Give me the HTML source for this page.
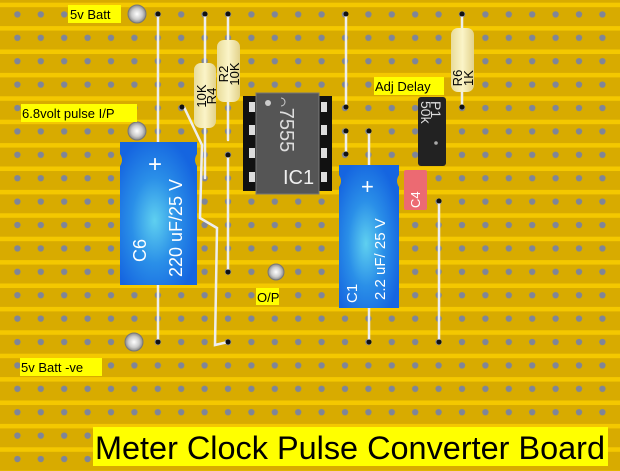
<!DOCTYPE html>
<html><head><meta charset="utf-8"><style>
html,body{margin:0;padding:0;background:#d6aa00}
svg{display:block}
text{font-family:"Liberation Sans",sans-serif}
</style></head><body>
<svg width="620" height="471" viewBox="0 0 620 471" xmlns="http://www.w3.org/2000/svg">
<defs>
<pattern id="strip" x="0" y="2.7" width="620" height="23.4" patternUnits="userSpaceOnUse">
<rect width="620" height="23.4" fill="#d8ab00"/>
<rect y="0" width="620" height="4.5" fill="#f4c800"/>
</pattern>
<pattern id="holes" x="5.4" y="2.4" width="23.4" height="23.4" patternUnits="userSpaceOnUse">
<circle cx="12" cy="12" r="3.2" fill="#7f8598"/>
</pattern>
<radialGradient id="blue" cx="0.45" cy="0.55" r="0.6">
<stop offset="0" stop-color="#5fd0f0"/><stop offset="0.5" stop-color="#2a8fe8"/><stop offset="1" stop-color="#1565e0"/>
</radialGradient>
<radialGradient id="pin" cx="0.5" cy="0.5" r="0.5">
<stop offset="0" stop-color="#fff"/><stop offset="0.6" stop-color="#ccc"/><stop offset="1" stop-color="#888"/>
</radialGradient>
<linearGradient id="res" x1="0" x2="1"><stop offset="0" stop-color="#e8dc9a"/><stop offset="0.5" stop-color="#fbf4c8"/><stop offset="1" stop-color="#e2d28a"/></linearGradient>
</defs>
<rect width="620" height="471" fill="url(#strip)"/>
<rect width="620" height="471" fill="url(#holes)"/>

<g stroke="#eee" stroke-width="2.5" fill="none" stroke-linecap="round">
<line x1="158" y1="14" x2="158" y2="342"/>
<line x1="205" y1="14" x2="205" y2="70"/>
<line x1="228" y1="14" x2="228" y2="50"/>
<line x1="205" y1="120" x2="205" y2="178"/>
<line x1="228" y1="95" x2="228" y2="140"/>
<line x1="228" y1="155" x2="228" y2="272"/>
<polyline points="184,107 202,145 200,218 217,228 215,345 228,342"/>
<line x1="346" y1="14" x2="346" y2="107"/>
<line x1="346" y1="131" x2="346" y2="154"/>
<line x1="369" y1="131" x2="369" y2="170"/>
<line x1="369" y1="300" x2="369" y2="342"/>
<line x1="439" y1="201" x2="439" y2="342"/>
<line x1="462" y1="14" x2="462" y2="107"/>
</g>
<g fill="#111">
<circle cx="158" cy="14" r="2.5"/><circle cx="205" cy="14" r="2.5"/><circle cx="228" cy="14" r="2.5"/>
<circle cx="346" cy="14" r="2.5"/><circle cx="462" cy="14" r="2.5"/><circle cx="346" cy="107" r="2.5"/>
<circle cx="182" cy="107" r="2.5"/><circle cx="462" cy="107" r="2.5"/>
<circle cx="346" cy="131" r="2.5"/><circle cx="369" cy="131" r="2.5"/><circle cx="346" cy="154" r="2.5"/>
<circle cx="228" cy="155" r="2.5"/><circle cx="228" cy="272" r="2.5"/><circle cx="439" cy="201" r="2.5"/>
<circle cx="158" cy="342" r="2.5"/><circle cx="228" cy="342" r="2.5"/><circle cx="369" cy="342" r="2.5"/><circle cx="439" cy="342" r="2.5"/>
</g>

<!-- resistors -->
<rect x="194" y="63" width="22" height="65" rx="7" fill="url(#res)"/>
<text transform="translate(206,96) rotate(-90)" font-size="13" text-anchor="middle">10K</text>
<text transform="translate(216,96) rotate(-90)" font-size="13" text-anchor="middle">R4</text>
<rect x="217" y="40" width="23" height="62" rx="7" fill="url(#res)"/>
<text transform="translate(228,74) rotate(-90)" font-size="13" text-anchor="middle">R2</text>
<text transform="translate(239,74) rotate(-90)" font-size="13" text-anchor="middle">10K</text>
<rect x="451" y="28" width="23" height="64" rx="7" fill="url(#res)"/>
<text transform="translate(462,78) rotate(-90)" font-size="13" text-anchor="middle">R6</text>
<text transform="translate(473,78) rotate(-90)" font-size="13" text-anchor="middle">1K</text>

<!-- IC -->
<rect x="243" y="96" width="89" height="95" fill="#111"/>
<g fill="#ddd">
<rect x="249" y="102" width="6" height="10"/><rect x="249" y="125" width="6" height="10"/><rect x="249" y="148" width="6" height="10"/><rect x="249" y="172" width="6" height="10"/>
<rect x="321" y="102" width="6" height="10"/><rect x="321" y="125" width="6" height="10"/><rect x="321" y="148" width="6" height="10"/><rect x="321" y="172" width="6" height="10"/>
</g>
<rect x="256" y="93" width="63" height="101" fill="#555" stroke="#777"/>
<circle cx="268" cy="103" r="3" fill="#ccc"/>
<text transform="translate(280,130) rotate(90)" font-size="20" fill="#ddd" text-anchor="middle">7555</text>
<text x="283" y="184" font-size="20" fill="#eee">IC1</text>
<path d="M281 98 a4 4 0 0 1 0 8" stroke="#ccc" fill="none"/>

<!-- P1 -->
<rect x="418" y="97" width="28" height="69" rx="3" fill="#222"/>
<text transform="translate(431,101) rotate(90)" font-size="14" fill="#ddd">P1</text>
<text transform="translate(421,101) rotate(90)" font-size="14" fill="#ddd">50k</text>
<circle cx="436" cy="143" r="1.8" fill="#aaa"/>

<!-- C6 -->
<path d="M120 142 h77 v12 q-4 6 0 12 v119 h-77 v-119 q4 -6 0 -12 z" fill="url(#blue)"/>
<text transform="translate(146,262) rotate(-90)" font-size="18" fill="#fff">C6</text>
<text transform="translate(182,277) rotate(-90)" font-size="18" fill="#fff">220 uF/25 V</text>
<text x="148" y="172" font-size="24" fill="#fff">+</text>

<!-- C1 -->
<path d="M339 165 h60 v10 q-4 6 0 12 v121 h-60 v-121 q4 -6 0 -12 z" fill="url(#blue)"/>
<text transform="translate(357,303) rotate(-90)" font-size="15" fill="#fff">C1</text>
<text transform="translate(385,300) rotate(-90)" font-size="15" fill="#fff">2.2 uF/ 25 V</text>
<text x="361" y="194" font-size="22" fill="#fff">+</text>

<!-- C4 -->
<rect x="404" y="170" width="23" height="40" rx="2" fill="#ec6a72"/>
<text transform="translate(420,208) rotate(-90)" font-size="13" fill="#fff">C4</text>

<!-- terminals -->
<g fill="url(#pin)" stroke="#777" stroke-width="1">
<circle cx="137" cy="14" r="9"/><circle cx="137" cy="131" r="9"/><circle cx="134" cy="342" r="9"/><circle cx="276" cy="272" r="8"/>
</g>

<!-- labels -->
<g font-size="13">
<rect x="68" y="5" width="53" height="18" fill="#ffff00"/><text x="70" y="19">5v Batt</text>
<rect x="21" y="104" width="116" height="18" fill="#ffff00"/><text x="22" y="118">6.8volt pulse I/P</text>
<rect x="20" y="358" width="82" height="18" fill="#ffff00"/><text x="21" y="372">5v Batt -ve</text>
<rect x="256" y="288" width="23" height="17" fill="#ffff00"/><text x="257" y="302">O/P</text>
<rect x="374" y="77" width="70" height="18" fill="#ffff00"/><text x="375" y="91">Adj Delay</text>
</g>
<rect x="93" y="427" width="515" height="39" fill="#ffff00"/>
<text x="95" y="459" font-size="32" textLength="510" lengthAdjust="spacingAndGlyphs">Meter Clock Pulse Converter Board</text>
</svg>
</body></html>
